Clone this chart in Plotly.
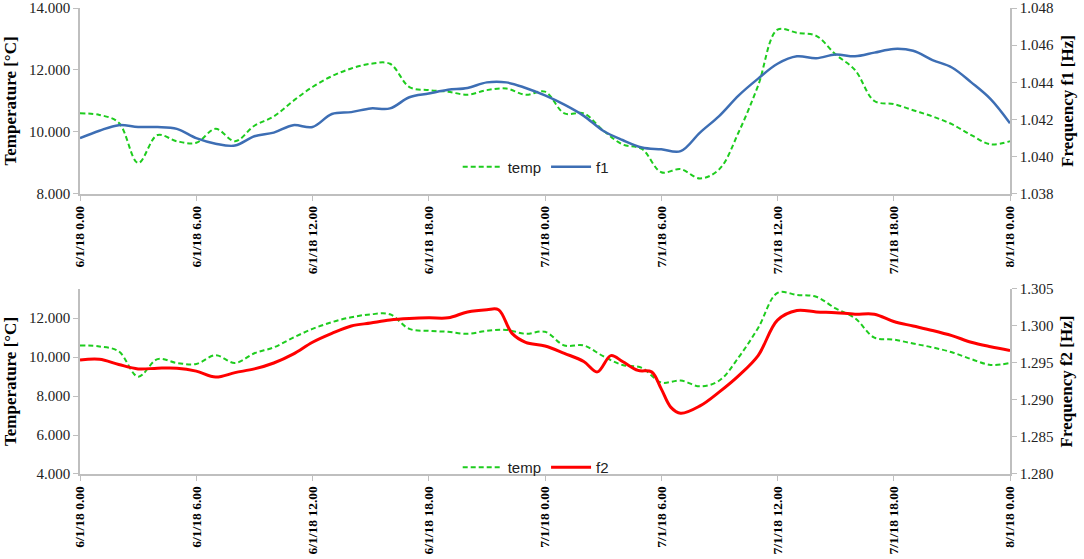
import plotly.graph_objects as go

# hours since 6/1/18 0.00
hours = list(range(0, 49))
temp = [10.6, 10.55, 10.3, 9.0, 9.9, 9.7, 9.65, 10.1, 9.7, 10.2,
        10.5, 11.0, 11.45, 11.8, 12.05, 12.2, 12.2, 11.45, 11.35, 11.3,
        11.2, 11.35, 11.4, 11.2, 11.3, 10.6, 10.6, 10.05, 9.6, 9.45,
        8.7, 8.8, 8.5, 8.8, 10.0, 11.5, 13.3, 13.2, 13.1, 12.5,
        12.0, 11.0, 10.9, 10.7, 10.5, 10.25, 9.9, 9.6, 9.7]
f1 = [1.0410, 1.0414, 1.0417, 1.0416, 1.0416, 1.0415, 1.0410, 1.0407, 1.0406, 1.0411,
      1.0413, 1.0417, 1.0416, 1.0423, 1.0424, 1.0426, 1.0426, 1.0432, 1.0434, 1.0436,
      1.0437, 1.0440, 1.0440, 1.0437, 1.0433, 1.0428, 1.0422, 1.0414, 1.0409, 1.0405,
      1.0404, 1.0403, 1.0413, 1.0422, 1.0433, 1.0442, 1.0450, 1.0454, 1.0453, 1.0455,
      1.0454, 1.0456, 1.0458, 1.0457, 1.0452, 1.0448, 1.0440, 1.0431, 1.0418]

f2_hours = [0, 1, 2, 3, 4, 5, 6, 7, 8, 9, 10, 11, 12, 13, 14, 15, 16, 17, 18, 19,
            20, 21, 21.6, 22.3, 23, 24, 25, 26, 26.7, 27.4, 28, 28.8, 29.5, 30, 30.5, 31,
            32, 33, 34, 35, 36, 37, 38, 39, 40, 41, 42, 43, 44, 45, 46, 47, 48]
f2 = [1.2954, 1.2955, 1.2948, 1.2942, 1.2943, 1.2943, 1.2939, 1.2931, 1.2937, 1.2942,
      1.2950, 1.2962, 1.2978, 1.2990, 1.3000, 1.3004, 1.3008, 1.3010, 1.3011, 1.3011,
      1.3019, 1.3022, 1.3022, 1.2990, 1.2978, 1.2973, 1.2963, 1.2952, 1.2938, 1.2960,
      1.2952, 1.2940, 1.2938, 1.2915, 1.2890, 1.2882,
      1.2892, 1.2911, 1.2933, 1.2960, 1.3008, 1.3021, 1.3019, 1.3018, 1.3016, 1.3016,
      1.3006, 1.3000, 1.2994, 1.2987, 1.2978, 1.2972, 1.2967]

tick_hours = [0, 6, 12, 18, 24, 30, 36, 42, 48]
tick_labels = ["6/1/18 0.00", "6/1/18 6.00", "6/1/18 12.00", "6/1/18 18.00",
               "7/1/18 0.00", "7/1/18 6.00", "7/1/18 12.00", "7/1/18 18.00",
               "8/1/18 0.00"]

GREEN = "#1ECC1E"
BLUE = "#3D6EB4"
RED = "#FF0000"
AX = "#BFBFBF"
SERIF = "Liberation Serif"

fig = go.Figure()
fig.add_trace(go.Scatter(x=hours, y=temp, name="temp", mode="lines",
                         line=dict(color=GREEN, width=2, dash="5px,3px", shape="spline"),
                         xaxis="x", yaxis="y", legend="legend"))
fig.add_trace(go.Scatter(x=hours, y=f1, name="f1", mode="lines",
                         line=dict(color=BLUE, width=2.5, shape="spline"),
                         xaxis="x", yaxis="y2", legend="legend"))
fig.add_trace(go.Scatter(x=hours, y=temp, name="temp", mode="lines",
                         line=dict(color=GREEN, width=2, dash="5px,3px", shape="spline"),
                         xaxis="x2", yaxis="y3", legend="legend2"))
fig.add_trace(go.Scatter(x=f2_hours, y=f2, name="f2", mode="lines",
                         line=dict(color=RED, width=3, shape="spline"),
                         xaxis="x2", yaxis="y4", legend="legend2"))

xcommon = dict(range=[0, 48], tickvals=tick_hours,
               ticktext=["<b>%s</b>" % t for t in tick_labels], tickangle=-90,
               showline=True, linecolor=AX, linewidth=1.5, ticks="outside", tickcolor=AX,
               ticklen=5, showgrid=False, zeroline=False, automargin=False,
               tickfont=dict(family=SERIF, size=13.5, color="black"))
ycommon = dict(showline=True, linecolor=AX, linewidth=1.5, ticks="outside", tickcolor=AX,
               ticklen=5, showgrid=False, zeroline=False, tickformat=".3f", automargin=False,
               tickfont=dict(family=SERIF, size=15, color="#222222"))
ttl = dict(family=SERIF, size=17, color="black")

fig.update_layout(
    width=1084, height=559,
    margin=dict(l=80, r=74, t=8, b=85),
    paper_bgcolor="white", plot_bgcolor="white",
    showlegend=True,
    xaxis=dict(**xcommon, domain=[0, 1], anchor="y"),
    xaxis2=dict(**xcommon, domain=[0, 1], anchor="y3"),
    yaxis=dict(**ycommon, domain=[0.601, 1], range=[8, 14], dtick=2,
               title=dict(text="<b>Temperature [°C]</b>", font=ttl, standoff=8)),
    yaxis2=dict(**ycommon, domain=[0.601, 1], range=[1.038, 1.048], dtick=0.002,
                overlaying="y", side="right", anchor="x",
                title=dict(text="<b>Frequency f1 [Hz]</b>", font=ttl, standoff=8)),
    yaxis3=dict(**ycommon, domain=[0, 0.397], range=[4, 13.5], tickvals=[4, 6, 8, 10, 12],
                anchor="x2",
                title=dict(text="<b>Temperature [°C]</b>", font=ttl, standoff=8)),
    yaxis4=dict(**ycommon, domain=[0, 0.397], range=[1.280, 1.305], dtick=0.005,
                overlaying="y3", side="right", anchor="x2",
                title=dict(text="<b>Frequency f2 [Hz]</b>", font=ttl, standoff=8)),
    legend=dict(orientation="h", x=0.49, y=0.659, xanchor="center", yanchor="middle",
                font=dict(family="Liberation Sans", size=15, color="#222222"),
                bgcolor="rgba(0,0,0,0)", itemwidth=40),
    legend2=dict(orientation="h", x=0.49, y=0.014, xanchor="center", yanchor="middle",
                 font=dict(family="Liberation Sans", size=15, color="#222222"),
                 bgcolor="rgba(0,0,0,0)", itemwidth=40),
)

fig.write_html("out.html", config={"displayModeBar": False},
               post_script="document.body.style.margin='0';document.body.style.overflow='hidden';")
